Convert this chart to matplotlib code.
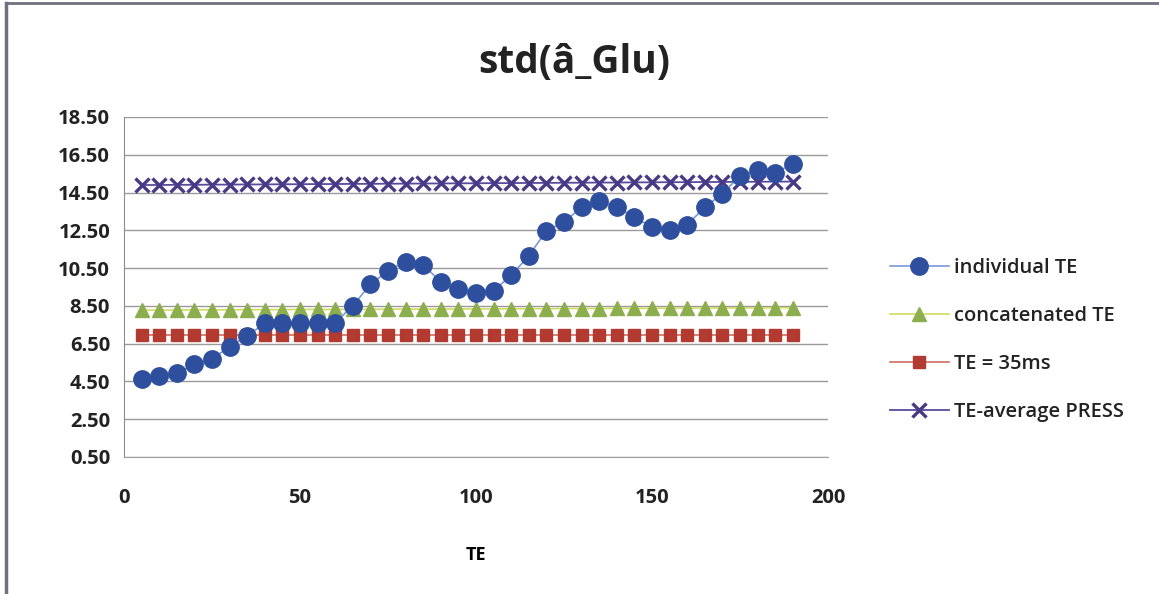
import matplotlib
matplotlib.use("Agg")
import matplotlib.pyplot as plt
from matplotlib.lines import Line2D

plt.rcParams['font.family'] = ['Open Sans', 'DejaVu Sans']

te = [5, 10, 15, 20, 25, 30, 35, 40, 45, 50, 55, 60, 65, 70, 75, 80, 85, 90, 95,
      100, 105, 110, 115, 120, 125, 130, 135, 140, 145, 150, 155, 160, 165, 170,
      175, 180, 185, 190]

individual_te = [4.61, 4.79, 4.93, 5.40, 5.69, 6.34, 6.92, 7.57, 7.61, 7.61, 7.61,
                 7.60, 8.51, 9.64, 10.36, 10.85, 10.66, 9.78, 9.39,
                 9.20, 9.30, 10.12, 11.15, 12.48, 12.95, 13.72, 14.05, 13.72,
                 13.20, 12.66, 12.50, 12.80, 13.72, 14.45, 15.38, 15.68, 15.55,
                 16.02]

concatenated_te = [8.28, 8.28, 8.28, 8.29, 8.29, 8.29, 8.30, 8.30, 8.30, 8.31,
                   8.31, 8.31, 8.32, 8.32, 8.32, 8.33, 8.33, 8.33, 8.34, 8.34,
                   8.34, 8.35, 8.35, 8.35, 8.36, 8.36, 8.36, 8.37, 8.37, 8.37,
                   8.38, 8.38, 8.38, 8.39, 8.39, 8.39, 8.40, 8.40]

te_35ms = [6.95] * 38

te_avg_press = [14.90, 14.90, 14.91, 14.91, 14.92, 14.92, 14.93, 14.93, 14.94,
                14.94, 14.95, 14.95, 14.96, 14.96, 14.97, 14.97, 14.98, 14.98,
                14.99, 14.99, 15.00, 15.00, 15.01, 15.01, 15.02, 15.02, 15.03,
                15.03, 15.04, 15.04, 15.05, 15.05, 15.06, 15.06, 15.07, 15.07,
                15.08, 15.08]

y_ticks = [0.5, 2.5, 4.5, 6.5, 8.5, 10.5, 12.5, 14.5, 16.5, 18.5]
x_ticks = [0, 50, 100, 150, 200]

fig = plt.figure(figsize=(11.59, 5.94), dpi=100)
ax = fig.add_axes([124 / 1159, 1 - 457 / 594, (828 - 124) / 1159, (457 - 117) / 594])

ax.plot(te, te_avg_press, color='#5A4A9E', lw=1.3, marker='x', ms=10, mew=2.4,
        mec='#4A3A86', label='TE-average PRESS', zorder=3)
ax.plot(te, te_35ms, color='#D07060', lw=1.2, marker='s', ms=8,
        mfc='#B23A30', mec='#B23A30', label='TE = 35ms', zorder=3)
ax.plot(te, concatenated_te, color='#D4DC60', lw=1.2, marker='^', ms=10.5,
        mfc='#8DAE4E', mec='#8DAE4E', label='concatenated TE', zorder=3)
ax.plot(te, individual_te, color='#7A9AD8', lw=1.2, marker='o', ms=12.5,
        mfc='#2E4E9E', mec='#2E4E9E', label='individual TE', zorder=4)

ax.set_xlim(0, 200)
ax.set_ylim(0.5, 18.5)
ax.set_xticks(x_ticks)
ax.set_yticks(y_ticks)
ax.set_yticklabels([f"{v:.2f}" for v in y_ticks])
ax.tick_params(axis='both', length=0, labelsize=14.5, colors='#222222')
ax.tick_params(axis='y', pad=10)
ax.tick_params(axis='x', pad=22)
for lbl in ax.get_xticklabels() + ax.get_yticklabels():
    lbl.set_fontweight('bold')

ax.grid(axis='y', color='#9A9A9A', lw=1.0)
ax.set_axisbelow(True)
for s in ['top', 'right']:
    ax.spines[s].set_visible(False)
ax.spines['left'].set_color('#8A8A8A')
ax.spines['bottom'].set_color('#A0A0A0')

ax.set_xlabel('TE', fontsize=13, fontweight='bold', labelpad=28)
fig.text(0.4955, 0.895, 'std(â_Glu)', ha='center', va='center', fontsize=28,
         fontweight='bold', color='#222222')

handles, labels = ax.get_legend_handles_labels()
order = [3, 2, 1, 0]
leg = fig.legend([handles[i] for i in order], [labels[i] for i in order],
                 loc='center left', bbox_to_anchor=(872 / 1159, 1 - 340 / 594),
                 frameon=False, fontsize=14.5, labelspacing=1.4, handlelength=2.9,
                 handletextpad=0.25)
for t in leg.get_texts():
    t.set_fontweight('semibold')
    t.set_color('#222222')

fig.add_artist(Line2D([6 / 1159, 1.0], [1 - 3 / 594, 1 - 3 / 594],
                      transform=fig.transFigure, color='#707080', lw=2))
fig.add_artist(Line2D([6 / 1159, 6 / 1159], [0, 1 - 3 / 594],
                      transform=fig.transFigure, color='#707080', lw=2.5))

fig.savefig('out.png', dpi=100)
